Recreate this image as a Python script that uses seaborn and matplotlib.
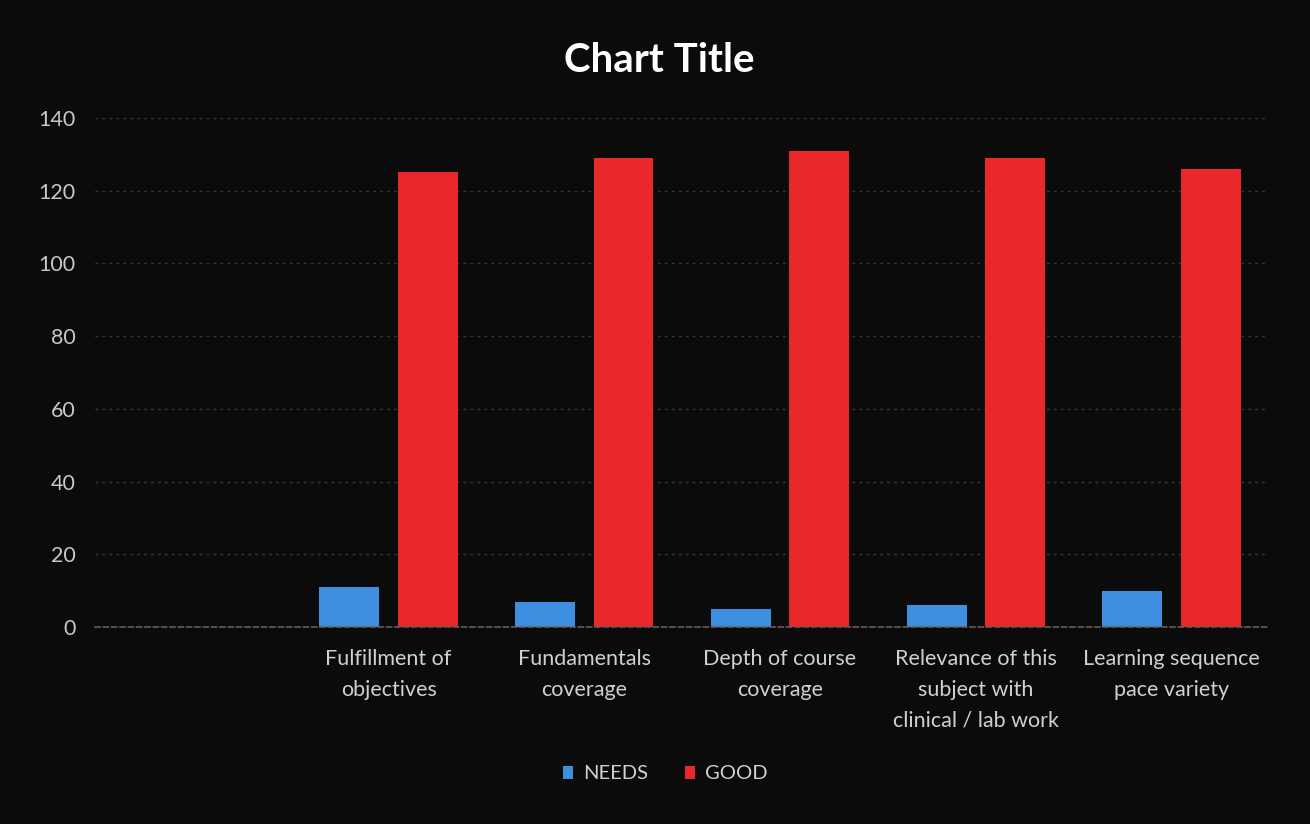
import matplotlib
matplotlib.use("Agg")
import matplotlib.pyplot as plt
import seaborn as sns
import pandas as pd
from matplotlib.patches import Patch

categories = ["Fulfillment of\nobjectives", "Fundamentals\ncoverage", "Depth of course\ncoverage",
              "Relevance of this\nsubject with\nclinical / lab work", "Learning sequence\npace variety"]
needs = [11, 7, 5, 6, 10]
good = [125, 129, 131, 129, 126]
series = ["NEEDS", "GOOD"]
colors = {"NEEDS": "#3f8fe0", "GOOD": "#e8282b"}
yticks = [0, 20, 40, 60, 80, 100, 120, 140]

df = pd.DataFrame({
    "category": categories * 2,
    "series": ["NEEDS"] * len(categories) + ["GOOD"] * len(categories),
    "value": needs + good,
})

sns.set_theme(style="dark")
plt.rcParams["font.family"] = ["Lato", "DejaVu Sans"]

bg = "#0c0b0c"
fig = plt.figure(figsize=(13.1, 8.24), dpi=100, facecolor=bg)
ax = fig.add_axes([0.0725, 0.239, 0.8965, 0.618])
ax.set_facecolor(bg)

sns.barplot(data=df, x="category", y="value", hue="series", order=categories,
            hue_order=series, palette=colors, width=0.8, gap=0.235, ax=ax,
            legend=False, saturation=1, edgecolor="none")

ax.set_xlim(-1.5, len(categories) - 0.5)
ax.set_ylim(0, 140)
ax.set_yticks(yticks)
ax.set_yticklabels([str(v) for v in yticks], color="#c8c8c8", fontsize=15.5)
ax.tick_params(axis="y", length=0, pad=14)
ax.tick_params(axis="x", length=0, pad=16)
for lbl in ax.get_xticklabels():
    lbl.set_color("#d0d0d0")
    lbl.set_fontsize(15.5)
    lbl.set_linespacing(1.65)
    lbl.set_verticalalignment("top")
ax.set_xlabel("")
ax.set_ylabel("")
ax.grid(axis="y", color="#3a3535", linestyle=(0, (2, 3)), linewidth=1)
ax.grid(axis="x", visible=False)
for s in ["top", "right", "left"]:
    ax.spines[s].set_visible(False)
ax.spines["bottom"].set_color("#6a5a5a")
ax.spines["bottom"].set_linestyle((0, (3, 2)))
ax.spines["bottom"].set_linewidth(1.2)

fig.text(0.503, 0.927, "Chart Title", ha="center", va="center", color="white",
         fontsize=29, fontweight="bold")

handles = [Patch(facecolor=colors[s], edgecolor="none", label=s) for s in series]
leg = fig.legend(handles=handles, loc="center", bbox_to_anchor=(0.508, 0.061), ncol=2,
                 frameon=False, fontsize=14.5, handlelength=0.5, handleheight=0.6,
                 handletextpad=0.5, columnspacing=1.8)
for t in leg.get_texts():
    t.set_color("#d0d0d0")

fig.savefig("out.png", dpi=100, facecolor=bg)
